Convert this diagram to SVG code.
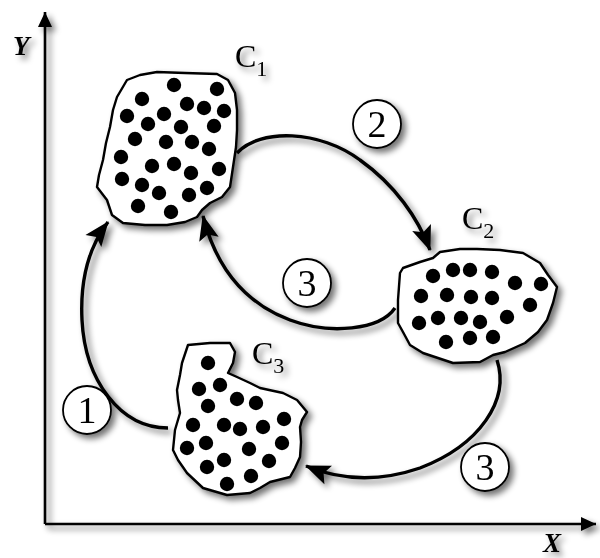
<svg xmlns="http://www.w3.org/2000/svg" width="600" height="558" viewBox="0 0 600 558">
<style>
.blob{fill:#fff;stroke:#000;stroke-width:2.4;stroke-linejoin:round}
.dot{fill:#000}
.con{fill:none;stroke:#000;stroke-width:3.4;stroke-linecap:butt}
.axis{fill:none;stroke:#000;stroke-width:2.6}
.num{fill:#fff;stroke:#000;stroke-width:1.8}
.numt{font-family:"Liberation Serif",serif;font-size:38px;text-anchor:middle;fill:#000}
.lab{font-family:"Liberation Serif",serif;font-size:32px;fill:#000}
.ax{font-family:"Liberation Serif",serif;font-size:27px;font-weight:bold;font-style:italic;fill:#000}
</style>
<defs>
<filter id="sh" x="-30%" y="-30%" width="170%" height="170%">
<feGaussianBlur in="SourceAlpha" stdDeviation="3"/>
<feOffset dx="4" dy="4"/>
<feComponentTransfer><feFuncA type="linear" slope="0.55"/></feComponentTransfer>
<feMerge><feMergeNode/><feMergeNode in="SourceGraphic"/></feMerge>
</filter>
<marker id="ah" markerUnits="userSpaceOnUse" markerWidth="26" markerHeight="22" refX="24" refY="10" orient="auto" overflow="visible">
<path d="M0,0 L25,10 L0,20 L5,10 Z" fill="#000"/>
</marker>
<marker id="axh" markerUnits="userSpaceOnUse" markerWidth="16" markerHeight="14" refX="15" refY="7" orient="auto" overflow="visible">
<path d="M0,0 L15,7 L0,14 Z" fill="#000"/>
</marker>
</defs>
<rect width="600" height="558" fill="#fff"/>

<g id="axes" filter="url(#sh)">
<path class="axis" d="M45,524 L45,12" marker-end="url(#axh)"/>
<path class="axis" d="M45,524 L596,524" marker-end="url(#axh)"/>
<text class="ax" x="13" y="55">Y</text>
<text class="ax" x="543" y="552">X</text>
</g>

<g id="connectors" filter="url(#sh)">
<path class="con" d="M168,428 C120,428 85,380 82,320 C80,280 88,248 108,222" marker-end="url(#ah)"/>
<path class="con" d="M237,153 C260,128 320,130 360,160 C395,185 418,218 430,250" marker-end="url(#ah)"/>
<path class="con" d="M395,308 C380,330 330,335 290,320 C250,305 218,275 203,216" marker-end="url(#ah)"/>
<path class="con" d="M497,360 C510,400 480,445 420,468 C385,480 345,482 306,466" marker-end="url(#ah)"/>
</g>

<g id="C1" filter="url(#sh)">
<path class="blob" d="M127,80 L140,75 L157,72 L185,73 L217,74 L228,80 L235,93 L237,110 L237,130 L236,147 L233,167 L230,187 L222,197 L210,203 L202,210 L197,217 L185,222 L167,225 L145,225 L123,223 L112,215 L107,200 L97,187 L99,175 L103,160 L106,143 L110,127 L113,110 L117,97 Z"/>
<g class="dot">
<circle cx="174" cy="85" r="7.2"/><circle cx="217" cy="89" r="7.2"/><circle cx="142" cy="99" r="7.2"/><circle cx="187" cy="104" r="7.2"/><circle cx="204" cy="108" r="7.2"/><circle cx="224" cy="111" r="7.2"/><circle cx="127" cy="116" r="7.2"/><circle cx="164" cy="114" r="7.2"/><circle cx="148" cy="124" r="7.2"/><circle cx="214" cy="126" r="7.2"/><circle cx="181" cy="127" r="7.2"/><circle cx="135" cy="139" r="7.2"/><circle cx="166" cy="142" r="7.2"/><circle cx="192" cy="142" r="7.2"/><circle cx="209" cy="149" r="7.2"/><circle cx="121" cy="157" r="7.2"/><circle cx="152" cy="166" r="7.2"/><circle cx="174" cy="164" r="7.2"/><circle cx="191" cy="173" r="7.2"/><circle cx="219" cy="169" r="7.2"/><circle cx="122" cy="179" r="7.2"/><circle cx="142" cy="185" r="7.2"/><circle cx="159" cy="193" r="7.2"/><circle cx="189" cy="195" r="7.2"/><circle cx="207" cy="188" r="7.2"/><circle cx="138" cy="206" r="7.2"/><circle cx="171" cy="212" r="7.2"/>
</g>
<text class="lab" x="235" y="67">C<tspan font-size="22" dy="9">1</tspan></text>
</g>

<g id="C2" filter="url(#sh)">
<path class="blob" d="M403,268 L420,262 L433,258 L440,252 L460,249 L477,249 L500,250 L523,253 L540,263 L548,275 L557,287 L553,303 L547,320 L538,332 L525,343 L505,352 L493,355 L480,362 L453,363 L423,353 L410,345 L403,332 L398,323 L398,300 L400,273 Z"/>
<g class="dot">
<circle cx="433" cy="276" r="7.2"/><circle cx="453" cy="270" r="7.2"/><circle cx="470" cy="270" r="7.2"/><circle cx="492" cy="272" r="7.2"/><circle cx="515" cy="283" r="7.2"/><circle cx="541" cy="284" r="7.2"/><circle cx="421" cy="296" r="7.2"/><circle cx="447" cy="295" r="7.2"/><circle cx="471" cy="297" r="7.2"/><circle cx="492" cy="298" r="7.2"/><circle cx="530" cy="305" r="7.2"/><circle cx="419" cy="323" r="7.2"/><circle cx="438" cy="318" r="7.2"/><circle cx="461" cy="318" r="7.2"/><circle cx="480" cy="322" r="7.2"/><circle cx="507" cy="317" r="7.2"/><circle cx="446" cy="342" r="7.2"/><circle cx="470" cy="338" r="7.2"/><circle cx="493" cy="337" r="7.2"/>
</g>
<text class="lab" x="462" y="229">C<tspan font-size="22" dy="9">2</tspan></text>
</g>

<g id="C3" filter="url(#sh)">
<path class="blob" d="M182,363 L188,345 L210,343 L230,343 L235,352 L233,363 L228,373 L237,377 L250,383 L260,388 L283,393 L297,400 L307,412 L302,420 L300,427 L301,442 L300,457 L295,468 L290,477 L270,482 L260,488 L250,493 L227,495 L203,488 L187,473 L178,460 L173,450 L174,440 L175,430 L180,413 L178,400 L177,390 L180,375 Z"/>
<g class="dot">
<circle cx="208" cy="363" r="7.2"/><circle cx="199" cy="389" r="7.2"/><circle cx="220" cy="385" r="7.2"/><circle cx="208" cy="406" r="7.2"/><circle cx="237" cy="399" r="7.2"/><circle cx="256" cy="403" r="7.2"/><circle cx="193" cy="425" r="7.2"/><circle cx="224" cy="425" r="7.2"/><circle cx="240" cy="429" r="7.2"/><circle cx="263" cy="427" r="7.2"/><circle cx="284" cy="419" r="7.2"/><circle cx="187" cy="448" r="7.2"/><circle cx="206" cy="443" r="7.2"/><circle cx="249" cy="449" r="7.2"/><circle cx="282" cy="443" r="7.2"/><circle cx="224" cy="460" r="7.2"/><circle cx="207" cy="467" r="7.2"/><circle cx="269" cy="461" r="7.2"/><circle cx="251" cy="476" r="7.2"/><circle cx="227" cy="484" r="7.2"/>
</g>
<text class="lab" x="252" y="364">C<tspan font-size="22" dy="9">3</tspan></text>
</g>

<g id="step1" filter="url(#sh)">
<circle class="num" cx="87" cy="410" r="24"/>
<text class="numt" x="87" y="423">1</text>
</g>
<g id="step2" filter="url(#sh)">
<circle class="num" cx="377" cy="124" r="24"/>
<text class="numt" x="377" y="137">2</text>
</g>
<g id="step3a" filter="url(#sh)">
<circle class="num" cx="307" cy="283" r="24"/>
<text class="numt" x="307" y="296">3</text>
</g>
<g id="step3b" filter="url(#sh)">
<circle class="num" cx="485" cy="467" r="24"/>
<text class="numt" x="485" y="480">3</text>
</g>
</svg>
